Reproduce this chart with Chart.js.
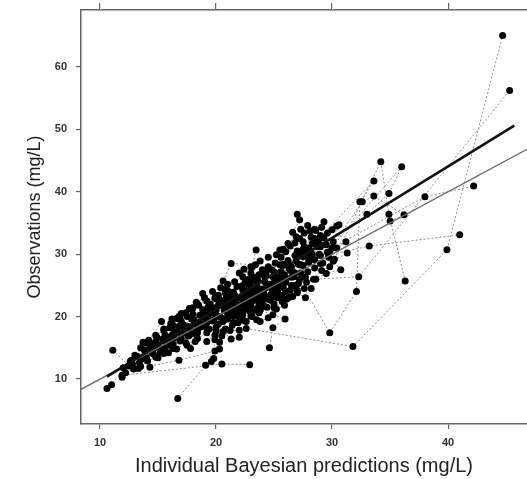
<!DOCTYPE html>
<html><head><meta charset="utf-8">
<script src="https://cdn.jsdelivr.net/npm/chart.js@4/dist/chart.umd.min.js"></script>
<style>html,body{margin:0;padding:0;background:#fff;}#wrap{width:527px;height:479px;}</style>
</head><body><div id="wrap"><canvas id="c" width="527" height="479"></canvas></div>
<script>
// Axis ranges and ticks
const xRange = [8.36, 46.8];
const yRange = [2.8, 69.1];
const xTicks = [10, 20, 30, 40];
const yTicks = [10, 20, 30, 40, 50, 60];
// Identity line (y = x) and linear regression line
const identityPred = [8.36, 46.8];
const identityObs = [8.36, 46.8];
const regressionPred = [10.6, 45.7];
const regressionObs = [10.4, 50.6];
// Individual profiles: [prediction, observation] in mg/L
const profiles = [
  [[22.6,18.1],[31.8,15.2],[39.9,30.7],[44.7,65.0]],
  [[28.6,26.0],[32.3,26.4],[45.3,56.2]],
  [[24.0,27.5],[33.2,31.3],[41.0,33.1]],
  [[30.2,29.2],[34.2,44.8],[34.9,36.4],[36.3,25.7]],
  [[29.6,30.3],[36.0,44.0],[34.9,39.7],[33.0,36.4]],
  [[26.5,28.0],[33.6,41.7],[32.4,38.4],[32.1,24.0],[29.8,17.4],[27.6,24.5]],
  [[30.0,31.0],[38.0,39.2],[42.2,40.9]],
  [[29.0,28.5],[32.6,38.4],[33.6,39.3],[36.2,36.3],[35.0,35.3]],
  [[30.0,33.9],[30.4,34.5],[31.3,30.2],[30.1,28.9]],
  [[10.6,8.5],[11.0,9.1],[12.7,13.0],[14.2,16.2],[15.3,19.2]],
  [[11.1,14.6],[12.5,12.1],[13.4,12.6],[14.6,14.8],[15.8,16.3]],
  [[11.9,10.3],[11.9,10.6],[20.5,12.4],[22.9,12.3]],
  [[13.3,11.7],[16.8,13.0],[19.9,14.5],[20.3,14.8]],
  [[14.3,11.9],[14.0,13.5],[15.0,15.5],[16.2,17.0],[17.4,18.2]],
  [[16.7,6.9],[19.1,12.2],[20.3,15.9],[21.4,18.6]],
  [[12.8,12.4],[13.5,13.3],[14.5,14.2],[15.2,15.0],[16.0,15.4]],
  [[14.8,16.0],[15.6,17.1],[16.6,19.7],[17.3,17.5],[18.1,18.8]],
  [[15.2,14.3],[16.1,15.9],[17.0,16.6],[17.8,17.9],[18.6,18.3]],
  [[16.9,19.7],[17.5,15.4],[17.8,14.9],[18.2,17.2],[19.2,19.0]],
  [[18.85,23.7],[18.85,21.1],[19.6,20.6],[20.2,21.8],[20.9,22.9]],
  [[19.6,12.8],[19.8,13.3],[19.9,16.3],[20.6,19.2],[21.5,20.0]],
  [[18.0,17.6],[18.9,18.6],[19.5,19.4],[20.1,20.1],[21.0,21.4],[21.8,22.0]],
  [[17.2,18.7],[17.9,19.6],[18.6,20.2],[19.3,21.5],[20.0,22.8]],
  [[20.6,25.7],[21.3,28.5],[23.4,28.3],[22.0,27.0],[23.0,27.0]],
  [[23.45,30.65],[22.8,26.0],[22.3,24.3],[21.6,23.4],[20.9,22.0]],
  [[19.4,18.0],[20.2,18.8],[21.0,19.6],[21.8,20.5],[22.5,21.3]],
  [[20.0,20.0],[20.7,21.0],[21.4,22.1],[22.1,23.0],[22.8,24.0]],
  [[21.2,17.8],[22.0,17.8],[22.6,19.2],[23.3,21.0]],
  [[22.0,19.8],[22.9,20.9],[23.7,22.0],[24.5,23.1],[25.3,24.0]],
  [[23.1,20.0],[23.8,21.0],[24.9,20.3],[25.95,19.6],[24.9,18.2],[24.6,15.0]],
  [[23.2,23.6],[23.9,24.4],[24.6,25.2],[25.2,26.1],[25.9,26.7]],
  [[24.2,26.4],[24.8,27.5],[25.5,28.3],[25.5,30.65],[26.2,29.0]],
  [[24.0,22.5],[24.7,23.5],[25.4,24.8],[26.0,25.5],[26.7,26.4]],
  [[25.6,27.2],[26.3,28.0],[26.9,28.9],[27.5,29.6],[28.1,30.5]],
  [[27.0,36.4],[27.3,34.0],[28.1,33.7],[28.5,32.5],[29.0,33.0]],
  [[29.3,35.2],[28.8,32.0],[29.5,31.5],[30.1,32.0],[30.6,34.7]],
  [[26.5,25.0],[27.2,26.0],[27.9,27.2],[28.5,27.8],[29.2,28.6]],
  [[28.2,24.5],[27.8,25.5],[29.5,26.9],[30.75,27.5],[30.1,28.9]],
  [[25.0,22.0],[25.7,23.4],[26.4,24.2],[27.1,25.3],[26.1,22.8]],
  [[22.4,22.3],[23.0,23.0],[23.6,23.9],[24.3,24.6],[24.9,25.3]],
  [[21.1,24.0],[21.8,24.8],[22.5,25.5],[23.3,26.3],[24.0,27.2]],
  [[19.0,20.2],[19.8,21.4],[20.4,22.6],[21.1,23.1],[21.7,22.7]],
  [[18.0,20.4],[18.5,21.8],[19.2,22.5],[19.9,23.0],[18.1,19.5]],
  [[16.0,18.2],[16.7,17.5],[17.3,18.0],[16.4,16.6],[15.7,16.8]],
  [[13.8,14.7],[14.6,15.6],[15.4,16.4],[14.3,15.2],[13.7,15.9]],
  [[26.4,31.3],[27.0,30.5],[27.6,31.2],[28.3,31.7],[27.2,32.5]],
  [[29.0,29.8],[29.8,30.4],[30.4,31.0],[31.2,32.0],[28.5,29.1]],
  [[25.6,29.5],[26.0,30.4],[26.8,31.8],[25.1,28.6],[24.5,28.0]],
  [[22.3,20.2],[23.4,21.2],[24.2,21.6],[23.5,19.5],[22.8,21.8]],
  [[20.5,16.9],[21.2,17.8],[21.9,19.0],[20.8,18.0],[20.0,17.7]],
  [[12.2,11.0],[12.9,11.6],[13.5,12.0],[14.1,12.9],[14.8,13.5]],
  [[19.0,18.4],[19.7,19.3],[20.4,19.9],[21.1,20.8],[21.9,21.7],[22.6,22.5]],
  [[20.8,23.8],[21.5,23.9],[22.2,24.9],[22.9,25.0],[23.6,25.8]],
  [[22.0,21.0],[22.7,21.9],[23.4,22.7],[24.1,23.8],[24.8,24.5],[25.5,25.6]],
  [[23.5,24.8],[24.2,25.6],[24.9,26.4],[25.6,27.0],[26.3,27.7]],
  [[25.0,23.3],[25.8,24.6],[26.5,26.3],[27.3,27.0],[28.0,28.7]],
  [[26.0,26.0],[26.8,27.0],[27.5,28.2],[28.2,29.3],[28.9,30.0]],
  [[17.5,20.0],[18.2,19.0],[18.9,19.9],[17.6,18.4],[16.8,18.4]],
  [[15.6,15.0],[16.3,15.6],[16.9,16.1],[17.6,16.9],[18.4,17.4]],
  [[20.3,21.9],[21.0,22.6],[21.8,21.0],[22.6,23.6],[23.3,24.4]],
  [[24.0,24.0],[24.7,22.6],[25.3,23.0],[26.0,24.0],[26.7,25.0]],
  [[27.5,32.0],[28.0,31.0],[28.7,31.2],[29.3,32.6],[27.8,29.8]],
  [[21.5,19.0],[22.3,19.4],[23.0,20.1],[23.7,20.6],[24.4,21.5]],
  [[18.4,16.5],[19.2,17.4],[20.0,18.3],[20.7,19.5],[21.4,20.4]],
  [[13.0,13.8],[13.9,14.4],[14.7,15.1],[15.5,14.1],[16.3,14.9]],
  [[26.2,31.7],[26.9,32.8],[27.6,33.4],[25.8,30.8],[27.3,30.0]],
  [[14.0,15.8],[14.8,17.0],[15.5,17.8],[16.3,18.6],[17.0,19.2]],
  [[15.0,13.4],[15.9,14.2],[16.6,14.8],[17.4,15.8],[18.2,16.0]],
  [[17.0,17.2],[17.7,17.0],[18.4,18.0],[19.1,18.9],[19.8,19.5]],
  [[18.3,22.3],[19.0,23.0],[19.7,24.0],[20.4,24.6],[21.0,25.2]],
  [[19.2,16.0],[19.9,17.0],[20.6,17.6],[21.3,16.4],[22.0,16.7]],
  [[20.2,23.4],[20.9,24.4],[21.6,25.6],[22.3,26.4],[23.0,28.0]],
  [[21.6,21.3],[22.3,20.8],[23.0,21.6],[23.7,23.0],[24.4,22.8]],
  [[22.4,27.6],[23.1,27.9],[23.8,28.9],[24.5,29.5],[25.2,29.9]],
  [[23.8,19.2],[24.5,19.8],[25.2,21.2],[25.9,21.8],[26.6,23.2]],
  [[25.2,25.0],[25.9,25.8],[26.6,27.2],[27.3,28.3],[28.0,29.0]],
  [[26.8,29.8],[27.5,30.8],[28.2,32.7],[28.9,31.6],[29.6,33.4]],
  [[27.0,24.2],[27.7,26.3],[28.4,26.0],[29.1,27.4],[29.8,28.0]],
  [[16.2,19.6],[17.0,20.5],[17.7,21.3],[18.4,22.0],[19.1,21.0]],
  [[21.0,20.2],[21.7,21.8],[22.4,23.0],[23.1,22.4],[23.8,24.1]],
  [[24.3,26.8],[25.0,27.2],[25.7,26.2],[26.4,27.4],[27.1,28.4]],
  [[12.0,11.8],[12.6,12.8],[13.2,13.6],[13.9,13.2],[14.6,14.0]],
  [[22.8,24.6],[23.5,25.4],[24.2,23.2],[24.9,24.0],[25.6,26.0]],
  [[27.6,30.3],[28.3,30.0],[29.0,31.2],[29.7,29.5],[28.6,33.8]],
  [[18.6,19.0],[19.3,20.0],[20.0,21.0],[20.7,21.5],[21.4,21.0]],
  [[19.5,22.0],[20.2,22.9],[20.9,23.2],[21.6,22.9],[22.3,22.0]],
  [[25.0,21.4],[25.7,22.4],[26.3,23.1],[27.0,23.8],[27.7,23.0]],
  [[26.6,33.5],[27.2,35.5],[27.9,34.6],[28.5,34.0],[29.1,34.3]],
  [[15.5,18.0],[16.1,18.9],[16.8,20.0],[17.4,20.6],[18.0,21.4]],
  [[23.0,25.7],[23.7,26.7],[24.4,27.6],[25.1,26.4],[25.8,28.4]],
  [[13.5,15.0],[14.2,16.0],[14.9,16.7],[15.6,16.0],[16.4,17.6]]
];

const FONT = "'Liberation Sans', Arial, sans-serif";
const toXY = (xs, ys) => xs.map((x, i) => ({x: x, y: ys[i]}));

const datasets = [];
datasets.push({label:'regression', data: toXY(regressionPred, regressionObs), showLine:true,
  borderColor:'#111', borderWidth:2.6, pointRadius:0, order:0});
datasets.push({label:'identity', data: toXY(identityPred, identityObs), showLine:true,
  borderColor:'#6a6a6a', borderWidth:1.4, pointRadius:0, order:1});
datasets.push({label:'observations', data: profiles.flat().map(p => ({x:p[0], y:p[1]})), showLine:false,
  pointRadius:3.5, pointBackgroundColor:'#000', pointBorderWidth:0, order:2});
profiles.forEach((prof, i) => {
  datasets.push({label:'subject ' + (i+1), data: prof.map(p => ({x:p[0], y:p[1]})), showLine:true,
    borderColor:'#8e8e8e', borderWidth:1, borderDash:[2,2], pointRadius:0, order:3});
});

const gridOpts = {drawOnChartArea:false, drawTicks:true, tickLength:5, color:'#666', lineWidth:1.2};
const borderOpts = {display:true, color:'#666', width:1.5};
const noPad = s => { s.paddingLeft = 0; s.paddingRight = 0; s.paddingTop = 0; s.paddingBottom = 0; };

new Chart(document.getElementById('c'), {
  type:'scatter',
  data:{datasets},
  options:{
    responsive:false, animation:false, devicePixelRatio:1,
    layout:{padding:0, autoPadding:false},
    plugins:{legend:{display:false}, tooltip:{enabled:false}},
    scales:{
      x:{type:'linear', position:'bottom', min:xRange[0], max:xRange[1],
        afterBuildTicks: s => { s.ticks = xTicks.map(v => ({value:v})); },
        afterFit: s => { s.height = 55; noPad(s); },
        grid: gridOpts, border: borderOpts,
        ticks:{font:{family:FONT, size:11, weight:'bold'}, color:'#333', padding:7, maxRotation:0},
        title:{display:true, text:'Individual Bayesian predictions (mg/L)', font:{family:FONT, size:20}, color:'#222', padding:{top:0, bottom:1}}
      },
      x2:{type:'linear', position:'top', min:xRange[0], max:xRange[1],
        afterBuildTicks: s => { s.ticks = xTicks.map(v => ({value:v})); },
        afterFit: s => { s.height = 10; noPad(s); },
        grid:{drawOnChartArea:false, drawTicks:true, tickLength:7, color:'#666', lineWidth:1.2},
        border: borderOpts, ticks:{display:false}
      },
      y:{type:'linear', position:'left', min:yRange[0], max:yRange[1],
        afterBuildTicks: s => { s.ticks = yTicks.map(v => ({value:v})); },
        afterFit: s => { s.width = 81; noPad(s); },
        grid: gridOpts, border: borderOpts,
        ticks:{font:{family:FONT, size:11, weight:'bold'}, color:'#333', padding:9},
        title:{display:true, text:'Observations (mg/L)', font:{family:FONT, size:18}, color:'#222', padding:{top:24, bottom:0}}
      }
    }
  }
});
</script></body></html>
